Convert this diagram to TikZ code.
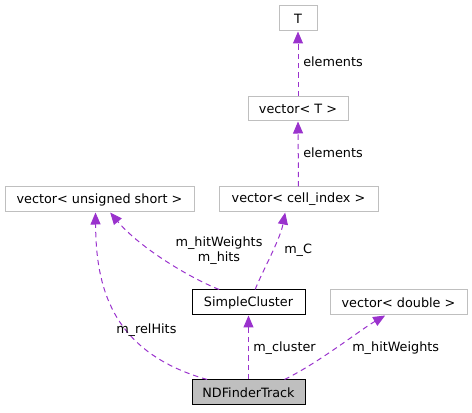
\documentclass[tikz,border=0pt]{standalone}
\usepackage{fontspec}
\setmainfont{DejaVu Sans}
\usepackage{tikz}
\usetikzlibrary{arrows.meta}
\definecolor{edgepurple}{HTML}{9A32CD}
\definecolor{boxgray}{HTML}{BFBFBF}

\tikzset{
  cls/.style={draw=boxgray, line width=0.75pt, rectangle, inner sep=0pt,
    minimum height=18.75pt, font=\fontsize{9.6}{11}\selectfont},
  main/.style={cls, draw=black, fill=boxgray},
  used/.style={cls, draw=black},
  rel/.style={draw=edgepurple, line width=0.75pt, dash pattern=on 4pt off 3pt,
    -{Triangle[length=9pt,width=7.5pt]}},
  lbl/.style={font=\fontsize{9.6}{11.5}\selectfont, inner sep=0pt, align=center}
}

\begin{document}
\begin{tikzpicture}[x=0.75pt,y=-0.75pt]
        \useasboundingbox (0,0) rectangle (472,413);
        % Template chain
        \node[cls, minimum width=28.5pt] (t) at (298,18.5) {T};
        \node[cls, minimum width=75pt, minimum height=18pt] (vt) at (298,109) {vector< T >};
        \node[cls, minimum width=119.25pt] (vci) at (298.5,199.5) {vector< cell\_index >};
        \node[cls, minimum width=141.75pt] (vus) at (99.5,199.5) {vector< unsigned short >};
        % Cluster and track
        \node[used, minimum width=84.75pt] (sc) at (248.5,302.5) {SimpleCluster};
        \node[cls, minimum width=102.75pt] (vd) at (398.5,302.5) {vector< double >};
        \node[main, minimum width=84.75pt] (nd) at (248.5,392.5) {NDFinderTrack};
        % Relations
        \draw[rel] (vt.north) -- (t.south);
        \node[lbl, anchor=west] at (303,62) {elements};
        \draw[rel] (vci.north) -- (vt.south);
        \node[lbl, anchor=west] at (303,153) {elements};
        \draw[rel] ([xshift=5pt]sc.north) .. controls (262,272) and (280,240) .. ([xshift=-10pt]vci.south);
        \node[lbl, anchor=west] at (284,250) {m\_C};
        \draw[rel] ([xshift=-22pt]sc.north) .. controls (190,278) and (140,248) .. ([xshift=8pt]vus.south);
        \node[lbl] at (219,250.5) {m\_hitWeights\\m\_hits};
        \draw[rel] ([xshift=-31pt]nd.north) .. controls (110,352) and (96,285) .. ([xshift=-3pt]vus.south);
        \node[lbl, anchor=west] at (116,330) {m\_relHits};
        \draw[rel] (nd.north) -- (sc.south);
        \node[lbl, anchor=west] at (253,348.5) {m\_cluster};
        \draw[rel] ([xshift=27pt]nd.north) .. controls (320,362) and (360,330) .. ([xshift=-10pt]vd.south);
        \node[lbl, anchor=west] at (352,348.5) {m\_hitWeights};
\end{tikzpicture}
\end{document}
